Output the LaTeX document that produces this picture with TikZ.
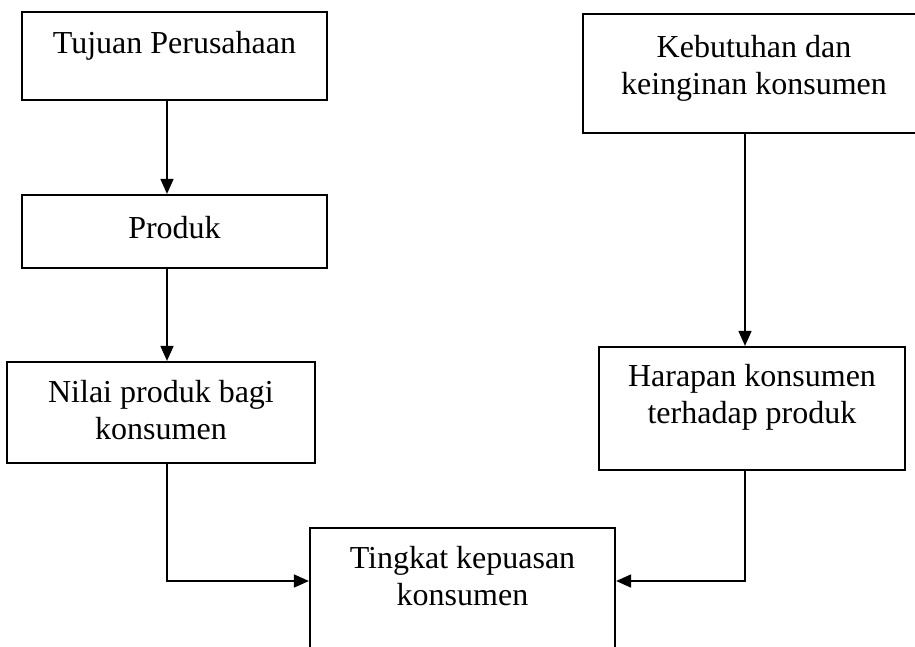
\documentclass[tikz,border=0pt]{standalone}
\usepackage{fontspec}
\setmainfont{Liberation Serif}
\usetikzlibrary{arrows.meta}
\tikzset{
  box/.style={draw, line width=2.2pt, rectangle, inner sep=0pt},
  txt/.style={inner sep=0pt, align=center, font=\fontsize{32}{36.8}\selectfont},
  conn/.style={line width=1.6pt},
  arr/.style={conn, -{Triangle[length=15pt,width=13pt]}}
}
\begin{document}
\begin{tikzpicture}[x=1pt,y=-1pt]
\useasboundingbox (0,0) rectangle (915,646);
\clip (0,0) rectangle (915,646);
\fill[white] (0,0) rectangle (915,646);
% boxes
\node[box, minimum width=305pt, minimum height=88pt]  (tujuan)    at (174.5,56) {};
\node[box, minimum width=305pt, minimum height=73pt]  (produk)    at (174.5,231.5) {};
\node[box, minimum width=308pt, minimum height=101pt] (nilai)     at (161,412.5) {};
\node[box, minimum width=342pt, minimum height=119pt] (kebutuhan) at (754,73.5) {};
\node[box, minimum width=306pt, minimum height=123pt] (harapan)   at (752,408.5) {};
\node[box, minimum width=305pt, minimum height=152pt] (tingkat)   at (462.5,604) {};
% texts (base anchor = baseline of the last line)
\node[txt, anchor=base] (t1) at ([yshift=-43pt]tujuan.north) {Tujuan Perusahaan};
\node[txt, anchor=base] (t2) at ([yshift=-45pt]produk.north) {Produk};
\node[txt, anchor=base] (t3) at ([yshift=-78.8pt]nilai.north) {Nilai produk bagi\\konsumen};
\node[txt, anchor=base] (t4) at ([yshift=-81.8pt]kebutuhan.north) {Kebutuhan dan\\keinginan konsumen};
\node[txt, anchor=base] (t5) at ([yshift=-77.8pt]harapan.north) {Harapan konsumen\\terhadap produk};
\node[txt, anchor=base] (t6) at ([yshift=-78.8pt]tingkat.north) {Tingkat kepuasan\\konsumen};
% connector guides
\coordinate (cl) at (167,0);
\coordinate (cr) at (745,0);
\coordinate (jy) at (0,581);
% connectors
\draw[arr] (tujuan.south -| cl) -- (produk.north -| cl);
\draw[arr] (produk.south -| cl) -- (nilai.north -| cl);
\draw[arr] (nilai.south -| cl) |- (tingkat.west |- jy);
\draw[arr] (kebutuhan.south -| cr) -- (harapan.north -| cr);
\draw[arr] (harapan.south -| cr) |- (tingkat.east |- jy);
\end{tikzpicture}
\end{document}
